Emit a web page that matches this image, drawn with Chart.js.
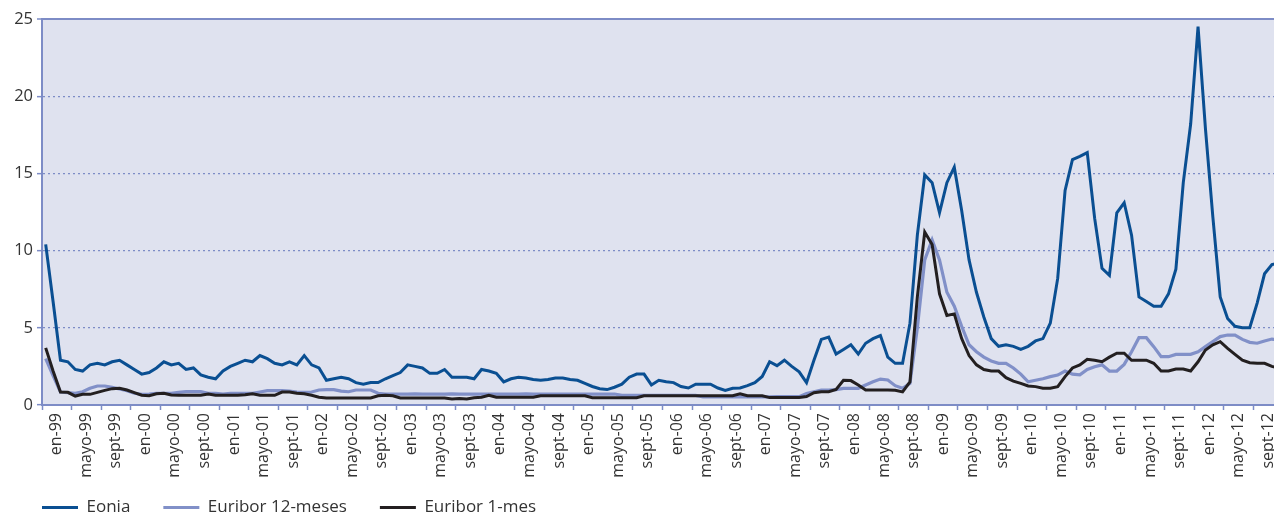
<!DOCTYPE html>
<html>
<head>
<meta charset="utf-8">
<script src="https://cdn.jsdelivr.net/npm/chart.js@4"></script>
<style>
  html, body { margin: 0; padding: 0; background: #fff; overflow: hidden; }
  #wrap { width: 1283px; height: 516px; }
</style>
</head>
<body>
<div id="wrap"><canvas id="myChart" width="1283" height="516"></canvas></div>
<script>
// Month names and years for the category axis
const monthNames = ['en', 'feb', 'mar', 'abr', 'mayo', 'jun', 'jul', 'ag', 'sept', 'oct', 'nov', 'dic'];
const years = ['99', '00', '01', '02', '03', '04', '05', '06', '07', '08', '09', '10', '11', '12'];

// Eonia (monthly, en-99 .. dic-12)
const eonia = [
    10.4, 6.7, 2.9, 2.8, 2.3, 2.2, 2.6, 2.7, 2.6, 2.8, 2.9, 2.6,
    2.3, 2.0, 2.1, 2.4, 2.8, 2.6, 2.7, 2.3, 2.4, 1.95, 1.8, 1.7,
    2.2, 2.5, 2.7, 2.9, 2.8, 3.2, 3.0, 2.7, 2.6, 2.8, 2.6, 3.2,
    2.6, 2.4, 1.6, 1.7, 1.8, 1.7, 1.45, 1.35, 1.45, 1.45, 1.7, 1.9,
    2.1, 2.6, 2.5, 2.4, 2.05, 2.05, 2.3, 1.8, 1.8, 1.8, 1.7, 2.3,
    2.2, 2.05, 1.5, 1.7, 1.8, 1.75, 1.65, 1.6, 1.65, 1.75, 1.75, 1.65,
    1.6, 1.4, 1.2, 1.05, 1.0, 1.15, 1.35, 1.8, 2.0, 2.0, 1.3, 1.6,
    1.5, 1.45, 1.2, 1.1, 1.35, 1.35, 1.35, 1.1, 0.95, 1.08, 1.1, 1.25,
    1.45, 1.85, 2.8, 2.55, 2.9, 2.5, 2.15, 1.45, 2.9, 4.25, 4.4, 3.3,
    3.6, 3.9, 3.3, 4.0, 4.3, 4.5, 3.1, 2.7, 2.7, 5.3, 11.0, 14.9,
    14.4, 12.45, 14.4, 15.4, 12.6, 9.4, 7.3, 5.7, 4.3, 3.8, 3.9, 3.8,
    3.6, 3.8, 4.15, 4.3, 5.3, 8.2, 13.9, 15.9, 16.1, 16.35, 12.1, 8.85,
    8.4, 12.45, 13.1, 11.0, 7.0, 6.7, 6.4, 6.4, 7.2, 8.8, 14.4, 18.2,
    24.5, 17.9, 12.2, 7.0, 5.6, 5.1, 5.0, 5.0, 6.6, 8.5, 9.1, 9.2
];

// Euribor 12-meses
const euribor12 = [
    3.0, 1.9, 0.84, 0.8, 0.76, 0.86, 1.08, 1.23, 1.23, 1.14, 1.04, 0.93,
    0.76, 0.69, 0.71, 0.76, 0.76, 0.76, 0.82, 0.86, 0.86, 0.86, 0.76, 0.76,
    0.71, 0.76, 0.76, 0.76, 0.76, 0.84, 0.93, 0.93, 0.93, 0.9, 0.84, 0.82,
    0.84, 0.97, 1.0, 1.0, 0.9, 0.86, 0.97, 0.97, 0.97, 0.76, 0.71, 0.71,
    0.71, 0.71, 0.72, 0.71, 0.71, 0.71, 0.71, 0.72, 0.71, 0.71, 0.71, 0.71,
    0.71, 0.71, 0.71, 0.71, 0.71, 0.72, 0.71, 0.71, 0.71, 0.71, 0.71, 0.71,
    0.71, 0.71, 0.71, 0.71, 0.71, 0.71, 0.62, 0.62, 0.62, 0.62, 0.62, 0.62,
    0.62, 0.62, 0.62, 0.62, 0.62, 0.52, 0.52, 0.52, 0.52, 0.52, 0.52, 0.52,
    0.52, 0.52, 0.52, 0.54, 0.54, 0.54, 0.54, 0.75, 0.86, 0.97, 0.97, 1.0,
    1.08, 1.08, 1.08, 1.3, 1.5, 1.68, 1.62, 1.25, 1.08, 1.4, 5.0, 9.4,
    10.7, 9.4, 7.3, 6.4, 5.1, 3.9, 3.45, 3.1, 2.85, 2.7, 2.7, 2.4,
    2.0, 1.5, 1.6, 1.7, 1.84, 1.94, 2.2, 2.0, 1.95, 2.3, 2.48, 2.6,
    2.2, 2.2, 2.63, 3.45, 4.36, 4.36, 3.78, 3.13, 3.13, 3.28, 3.28, 3.28,
    3.45, 3.78, 4.1, 4.43, 4.53, 4.53, 4.25, 4.06, 4.0, 4.15, 4.27, 4.2
];

// Euribor 1-mes
const euribor1 = [
    3.7, 2.2, 0.84, 0.82, 0.58, 0.69, 0.69, 0.82, 0.95, 1.06, 1.08, 0.97,
    0.8, 0.63, 0.6, 0.73, 0.76, 0.65, 0.63, 0.63, 0.63, 0.63, 0.71, 0.63,
    0.63, 0.63, 0.63, 0.67, 0.73, 0.63, 0.63, 0.63, 0.84, 0.84, 0.76, 0.73,
    0.63, 0.5, 0.45, 0.45, 0.45, 0.45, 0.45, 0.45, 0.45, 0.6, 0.63, 0.6,
    0.45, 0.45, 0.45, 0.45, 0.45, 0.45, 0.45, 0.39, 0.42, 0.39, 0.47, 0.5,
    0.63, 0.5, 0.5, 0.5, 0.5, 0.5, 0.5, 0.6, 0.6, 0.6, 0.6, 0.6,
    0.6, 0.6, 0.47, 0.47, 0.47, 0.47, 0.47, 0.47, 0.47, 0.6, 0.6, 0.6,
    0.6, 0.6, 0.6, 0.6, 0.6, 0.6, 0.6, 0.6, 0.6, 0.6, 0.73, 0.6,
    0.6, 0.6, 0.48, 0.48, 0.48, 0.48, 0.48, 0.55, 0.8, 0.86, 0.86, 1.0,
    1.6, 1.58, 1.3, 0.97, 0.97, 0.97, 0.97, 0.95, 0.85, 1.5, 7.0, 11.2,
    10.4, 7.2, 5.8, 5.9, 4.3, 3.2, 2.6, 2.3, 2.2, 2.2, 1.77, 1.55,
    1.4, 1.23, 1.19, 1.08, 1.08, 1.19, 1.84, 2.4, 2.6, 2.96, 2.9, 2.8,
    3.1, 3.35, 3.35, 2.9, 2.9, 2.9, 2.7, 2.2, 2.2, 2.33, 2.33, 2.2,
    2.8, 3.56, 3.9, 4.1, 3.67, 3.28, 2.9, 2.74, 2.7, 2.7, 2.5, 2.37
];

// y axis
const yMin = 0, yMax = 25, yStep = 5;

// one category per month
const months = [];
years.forEach(y => monthNames.forEach(m => months.push(m + '-' + y)));

const axisBlue = '#7d8cc6';
const textColor = '#333333';

Chart.defaults.font.family = '"Open Sans", "Noto Sans", sans-serif';
Chart.defaults.font.size = 16;
Chart.defaults.color = textColor;

// light plot background
const plotBackground = {
    id: 'plotBackground',
    beforeDraw(chart) {
        const { ctx, chartArea: a } = chart;
        ctx.save();
        ctx.fillStyle = '#dfe2ef';
        ctx.fillRect(a.left, a.top, a.right - a.left, a.bottom - a.top);
        ctx.restore();
    }
};

function createChart() {
    const ctx = document.getElementById('myChart').getContext('2d');
    new Chart(ctx, {
        type: 'line',
        data: {
            labels: months,
            datasets: [{
                label: 'Eonia',
                data: eonia,
                borderColor: '#0a4f92',
                backgroundColor: '#0a4f92',
                borderWidth: 3,
                pointRadius: 0,
                tension: 0,
                order: 0
            }, {
                label: 'Euribor 12-meses',
                data: euribor12,
                borderColor: '#8190c8',
                backgroundColor: '#8190c8',
                borderWidth: 3.2,
                pointRadius: 0,
                tension: 0,
                order: 2
            }, {
                label: 'Euribor 1-mes',
                data: euribor1,
                borderColor: '#231f20',
                backgroundColor: '#231f20',
                borderWidth: 3,
                pointRadius: 0,
                tension: 0,
                order: 1
            }]
        },
        options: {
            responsive: false,
            animation: false,
            devicePixelRatio: 1,
            layout: { padding: { top: 19, left: 9, right: 0, bottom: 0 } },
            plugins: {
                tooltip: { enabled: false },
                legend: {
                    position: 'bottom',
                    align: 'start',
                    maxHeight: 50,
                    labels: {
                        usePointStyle: true,
                        pointStyle: 'line',
                        pointStyleWidth: 36,
                        padding: 33,
                        color: textColor,
                        font: { size: 17 },
                        sort: (a, b) => a.datasetIndex - b.datasetIndex
                    }
                }
            },
            scales: {
                x: {
                    offset: true,
                    ticks: {
                        autoSkip: false,
                        minRotation: 90,
                        maxRotation: 90,
                        labelOffset: 11,
                        padding: 3,
                        color: textColor,
                        font: { size: 16 },
                        callback: function (value, index) {
                            return index % 4 === 0 ? this.getLabelForValue(value) : '';
                        }
                    },
                    grid: {
                        offset: true,
                        drawOnChartArea: false,
                        tickLength: 5,
                        tickWidth: 1.5,
                        tickColor: c => (c.index % 4 === 0 ? axisBlue : 'rgba(0,0,0,0)')
                    },
                    border: { color: axisBlue, width: 2 },
                    afterFit: s => {
                        s.height = 61;
                        s.paddingLeft = 0;
                        s.paddingRight = 0;
                        // let the rotated labels run below the axis box
                        s._computeLabelArea = () => undefined;
                    }
                },
                y: {
                    min: yMin,
                    max: yMax,
                    ticks: { stepSize: yStep, padding: 4, color: textColor, font: { size: 16.5 } },
                    grid: {
                        color: axisBlue,
                        lineWidth: c => (c.tick && c.tick.value === yMax ? 2 : 1.3),
                        tickLength: 5,
                        tickWidth: 1.5,
                        tickColor: axisBlue
                    },
                    border: {
                        color: axisBlue,
                        width: 2,
                        dash: c => (c.tick && c.tick.value === yMax ? [] : [2, 3])
                    },
                    afterFit: s => { s.width = 33; }
                }
            }
        },
        plugins: [plotBackground]
    });
}

window.onload = createChart;
</script>
</body>
</html>
